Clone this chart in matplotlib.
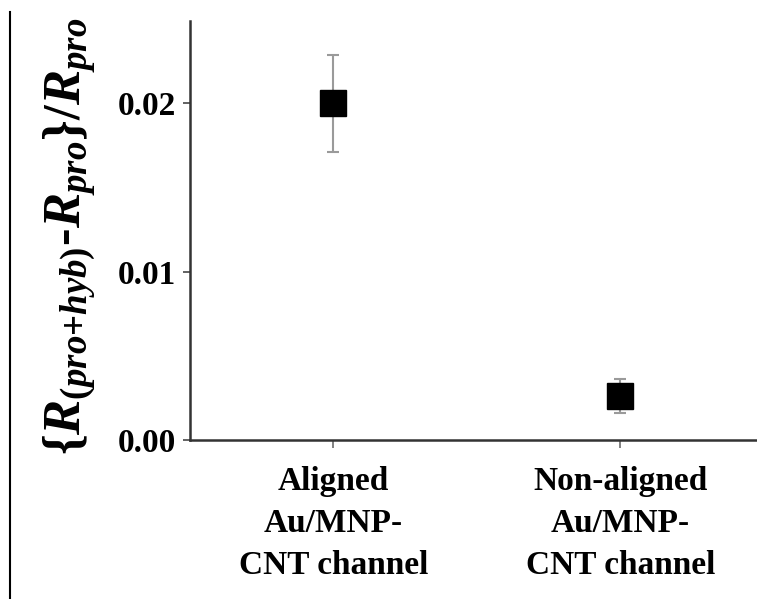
import matplotlib
matplotlib.use("Agg")
import matplotlib.pyplot as plt
from matplotlib.lines import Line2D

# data
categories = ["Aligned\nAu/MNP-\nCNT channel", "Non-aligned\nAu/MNP-\nCNT channel"]
positions = [1, 2]
values = [0.0200, 0.00260]
errors = [0.0029, 0.0010]
yticks = [0.00, 0.01, 0.02]
ytick_labels = ["0.00", "0.01", "0.02"]

plt.rcParams['font.family'] = 'Liberation Serif'
plt.rcParams['font.weight'] = 'bold'
plt.rcParams['mathtext.fontset'] = 'custom'
plt.rcParams['mathtext.it'] = 'Liberation Serif:italic:bold'
plt.rcParams['mathtext.rm'] = 'Liberation Serif:bold'
plt.rcParams['mathtext.bf'] = 'Liberation Serif:italic:bold'

fig = plt.figure(figsize=(7.57, 5.99), dpi=100)
ax = fig.add_axes([190/757, 159/599, 567/757, 419/599])

ax.errorbar(positions, values, yerr=errors, fmt='s', color='black',
            markersize=18.5, ecolor='#9a9a9a', elinewidth=1.5,
            capsize=4.5, capthick=1.5, zorder=3)

ax.set_xlim(0.5, 2.476)
ax.set_ylim(0, 0.0249)
ax.set_xticks(positions)
ax.set_xticklabels(categories, fontsize=24, fontweight='bold', linespacing=1.45)
ax.set_yticks(yticks)
ax.set_yticklabels(ytick_labels, fontsize=24, fontweight='bold')

for s in ['top', 'right']:
    ax.spines[s].set_visible(False)
for s in ['left', 'bottom']:
    ax.spines[s].set_linewidth(1.8)
    ax.spines[s].set_color('#333333')
ax.tick_params(axis='y', length=5, width=1.3, color='#555555', pad=5)
ax.tick_params(axis='x', length=6, width=1.3, color='#777777', pad=13)

ax.set_ylabel(r'$\{R_{(pro{+}hyb)}$-$R_{pro}\}/R_{pro}$', fontsize=38,
              fontweight='bold')
ax.yaxis.set_label_coords(-0.162, 0.485)

# left border line
fig.add_artist(Line2D([10/757, 10/757], [0, 1 - 12/599],
                      transform=fig.transFigure, color='black', lw=1.5))

plt.savefig("out.png", dpi=100)
